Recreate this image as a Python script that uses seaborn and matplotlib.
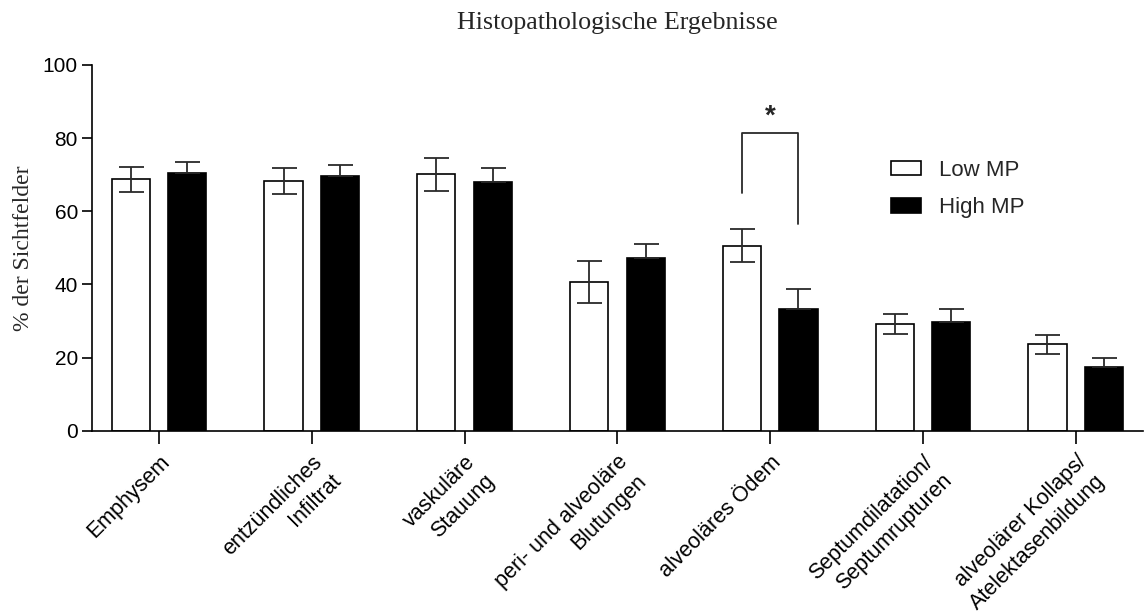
import numpy as np
import pandas as pd
import matplotlib
matplotlib.use("Agg")
import matplotlib.pyplot as plt
import seaborn as sns
from matplotlib.patches import Patch

categories = ["Emphysem", "entzündliches\nInfiltrat", "vaskuläre\nStauung",
              "peri- und alveoläre\nBlutungen", "alveoläres Ödem",
              "Septumdilatation/\nSeptumrupturen", "alveolärer Kollaps/\nAtelektasenbildung"]
groups = ["Low MP", "High MP"]
low_mean = [68.7, 68.3, 70.1, 40.6, 50.6, 29.2, 23.6]
low_err = [3.4, 3.6, 4.5, 5.7, 4.5, 2.8, 2.6]
high_mean = [70.5, 69.6, 68.1, 47.2, 33.4, 29.7, 17.3]
high_err = [3.1, 3.0, 3.7, 3.9, 5.4, 3.6, 2.7]
yticks = [0, 20, 40, 60, 80, 100]
title = "Histopathologische Ergebnisse"
ylabel = "% der Sichtfelder"

df = pd.DataFrame({
    "cat": categories * 2,
    "group": [groups[0]] * len(categories) + [groups[1]] * len(categories),
    "val": low_mean + high_mean,
})

sns.set_style("ticks")
plt.rcParams["font.family"] = ["Liberation Sans", "DejaVu Sans"]

fig = plt.figure(figsize=(11.48, 6.13), dpi=100)
ax = fig.add_axes([0.080, 0.2974, 0.9156, 0.5966])

width = 0.74
sns.barplot(data=df, x="cat", y="val", hue="group", hue_order=groups,
            order=categories, palette=["white", "black"], width=width,
            gap=0.324, edgecolor="black", linewidth=1.2, errorbar=None,
            legend=False, ax=ax, saturation=1)

x = np.arange(len(categories))
off = width / 4
ecol = "#2a2a2a"
ax.errorbar(x - off, low_mean, yerr=low_err, fmt="none", ecolor=ecol,
            elinewidth=1.3, capsize=9, capthick=1.3, zorder=5)
ax.errorbar(x + off, high_mean, yerr=[np.zeros(len(high_err)), high_err],
            fmt="none", ecolor=ecol, elinewidth=1.3, capsize=9, capthick=1.3,
            zorder=5)

# significance bracket for alveoläres Ödem
i = 4
bx = [i - off, i - off, i + off, i + off]
by = [65.0, 81.4, 81.4, 56.5]
ax.plot(bx, by, color=ecol, lw=1.3, zorder=6)
ax.text(i, 82.3, "*", ha="center", va="bottom", fontsize=20, fontweight="bold")

ax.set_ylim(0, 100)
ax.set_xlim(-0.44, len(categories) - 0.56)
ax.set_yticks(yticks)
ax.set_yticklabels([str(t) for t in yticks], fontsize=15)
ax.set_xticks(x)
ax.set_xticklabels(categories, rotation=45, ha="right", va="top",
                   rotation_mode="anchor", fontsize=15.5, multialignment="right",
                   linespacing=1.35)
ax.tick_params(axis="y", length=7, width=1.2, pad=3, colors="black")
ax.tick_params(axis="x", length=9, width=1.2, pad=6, colors="black")
ax.set_xlabel("")
ax.set_ylabel(ylabel, fontsize=17, family="Liberation Serif", labelpad=6)
for s in ["top", "right"]:
    ax.spines[s].set_visible(False)
for s in ["left", "bottom"]:
    ax.spines[s].set_linewidth(1.2)
    ax.spines[s].set_color("black")

fig.text(0.5375, 0.962, title, ha="center", va="center", fontsize=18.7,
         family="Liberation Serif")

handles = [Patch(facecolor="white", edgecolor="black", linewidth=1.2),
           Patch(facecolor="black", edgecolor="black", linewidth=1.2)]
ax.legend(handles, groups, loc="upper left", bbox_to_anchor=(0.752, 0.765),
          frameon=False, fontsize=16, handlelength=1.35, handleheight=0.63,
          handletextpad=0.8, labelspacing=0.75, borderaxespad=0)

fig.savefig("out.png", dpi=100)
